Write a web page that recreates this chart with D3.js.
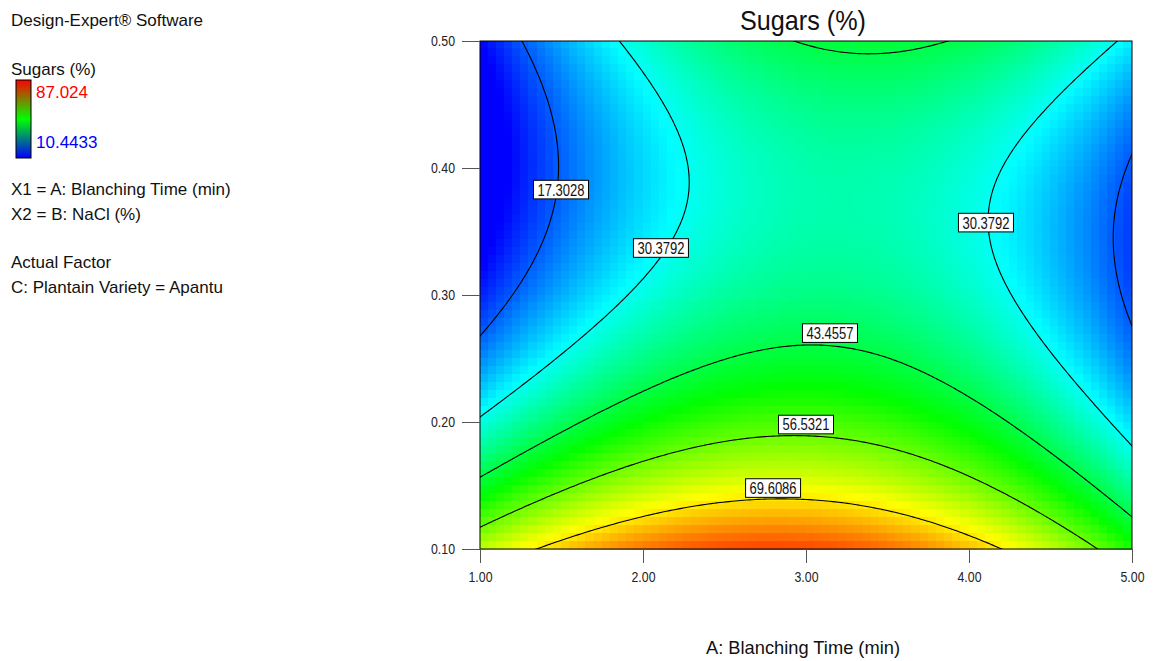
<!DOCTYPE html>
<html>
<head>
<meta charset="utf-8">
<script src="https://cdn.jsdelivr.net/npm/d3@7/dist/d3.min.js"></script>
<style>
  body { margin: 0; background: #fff; }
  svg text { font-family: "Liberation Sans", Arial, sans-serif; fill: #111; }
</style>
</head>
<body>
<svg id="chart" width="1157" height="661"></svg>
<script>
// axis ticks and contour levels
const xTicks = [1, 2, 3, 4, 5];
const yTicks = [0.1, 0.2, 0.3, 0.4, 0.5];
const levels = [17.3028, 30.3792, 43.4557, 56.5321, 69.6086];
const legendMax = 87.024;
const legendMin = 10.4433;

// points: A (min), B (%), Sugars (%)
const traceA = [
  // 17.3028 left
  1.296, 1.409, 1.48, 1.517, 1.491, 1.429, 1.327, 1.143, 1.0,
  // 17.3028 right
  5.0, 4.967, 4.896, 4.885, 4.906, 5.0,
  // 30.3792 left
  1.869, 2.043, 2.186, 2.268, 2.302, 2.268, 2.145, 2.053, 1.552, 1.245, 1.0,
  // 30.3792 right
  4.906, 4.64, 4.354, 4.17, 4.102, 4.149, 4.272, 4.436, 4.64, 4.845, 5.0,
  // 43.4557 (lower line, then the bowl at the top)
  1.0, 1.552, 1.961, 2.575, 3.086, 3.454, 4.067, 4.477, 5.0,
  2.891, 3.086, 3.372, 3.638, 3.894,
  // 56.5321
  1.0, 1.552, 1.961, 2.575, 3.086, 3.658, 4.067, 4.477, 4.814,
  // 69.6086
  1.348, 1.756, 2.166, 2.575, 2.983, 3.25, 3.658, 4.221,
];
const traceB = [
  0.5, 0.469, 0.438, 0.404, 0.362, 0.338, 0.32, 0.291, 0.263,
  0.413, 0.398, 0.372, 0.351, 0.325, 0.283,
  0.5, 0.477, 0.448, 0.422, 0.391, 0.362, 0.338, 0.32, 0.267, 0.231, 0.202,
  0.5, 0.469, 0.422, 0.396, 0.362, 0.325, 0.299, 0.27, 0.238, 0.209, 0.186,
  0.156, 0.196, 0.223, 0.251, 0.262, 0.249, 0.202, 0.165, 0.129,
  0.5, 0.494, 0.489, 0.492, 0.5,
  0.116, 0.149, 0.17, 0.186, 0.19, 0.173, 0.149, 0.123, 0.1,
  0.1, 0.118, 0.132, 0.14, 0.141, 0.137, 0.125, 0.1,
];
const traceLevel = [
  ...Array(9).fill(17.3028), ...Array(6).fill(17.3028),
  ...Array(11).fill(30.3792), ...Array(11).fill(30.3792),
  ...Array(14).fill(43.4557), ...Array(9).fill(56.5321), ...Array(8).fill(69.6086),
];

// spot values estimated from the colours
const spotA = [2.91, 1.0, 5.0, 1.0, 1.0, 5.0, 5.0, 3.372];
const spotB = [0.1, 0.1, 0.1, 0.5, 0.4, 0.5, 0.345, 0.5];
const spotValue = [83.0, 62.0, 50.0, 11.0, 10.44, 27.0, 15.0, 48.0];

// chart variables
const plotLeft = 480;
const plotRight = 1132;
const plotTop = 41;
const plotBottom = 549;
const nCols = 80;
const nRows = 64;

// fit the response surface (cubic in coded units) to the read points
const coded = (A, B) => [(A - 3) / 2, (B - 0.3) / 0.2];
const terms = (a, b) => [1, a, b, a * b, a * a, b * b, a * a * b, a * b * b, a * a * a, b * b * b];
const k = 10;
const M = Array.from({ length: k }, () => new Array(k + 1).fill(0));
const allA = traceA.concat(spotA);
const allB = traceB.concat(spotB);
const allV = traceLevel.concat(spotValue);
allA.forEach((A, i) => {
  const [a, b] = coded(A, allB[i]);
  const t = terms(a, b);
  for (let r = 0; r < k; r++) {
    for (let c = 0; c < k; c++) M[r][c] += t[r] * t[c];
    M[r][k] += t[r] * allV[i];
  }
});
for (let c = 0; c < k; c++) {
  let p = c;
  for (let r = c + 1; r < k; r++) if (Math.abs(M[r][c]) > Math.abs(M[p][c])) p = r;
  [M[c], M[p]] = [M[p], M[c]];
  for (let r = 0; r < k; r++) {
    if (r === c) continue;
    const f = M[r][c] / M[c][c];
    for (let j = c; j <= k; j++) M[r][j] -= f * M[c][j];
  }
}
const coef = M.map((row, i) => row[k] / row[i]);
const sugars = (A, B) => {
  const [a, b] = coded(A, B);
  return d3.sum(terms(a, b), (t, i) => t * coef[i]);
};

// scales
const xScale = d3.scaleLinear().domain([1, 5]).range([plotLeft, plotRight]);
const yScale = d3.scaleLinear().domain([0.1, 0.5]).range([plotBottom, plotTop]);
const step = (legendMax - legendMin) / 4;
const color = d3
  .scaleLinear()
  .domain([0, 1, 2, 3, 4].map((i) => legendMin + i * step))
  .range(["#0000ff", "#00ffff", "#00ff00", "#ffff00", "#ff0000"])
  .clamp(true);

const svg = d3.select("#chart");
const defs = svg.append("defs");

defs
  .append("clipPath")
  .attr("id", "plot-clip")
  .append("rect")
  .attr("x", plotLeft)
  .attr("y", plotTop)
  .attr("width", plotRight - plotLeft)
  .attr("height", plotBottom - plotTop);

// heat map cells
const cells = [];
for (let j = 0; j < nRows; j++) {
  for (let i = 0; i < nCols; i++) {
    const A0 = 1 + (i * 4) / nCols;
    const B0 = 0.5 - (j * 0.4) / nRows;
    cells.push({ A0, A1: A0 + 4 / nCols, B0, B1: B0 - 0.4 / nRows });
  }
}
svg
  .append("g")
  .attr("shape-rendering", "crispEdges")
  .selectAll("rect")
  .data(cells)
  .enter()
  .append("rect")
  .attr("x", (d) => Math.floor(xScale(d.A0)))
  .attr("y", (d) => Math.floor(yScale(d.B0)))
  .attr("width", (d) => Math.ceil(xScale(d.A1)) - Math.floor(xScale(d.A0)))
  .attr("height", (d) => Math.ceil(yScale(d.B1)) - Math.floor(yScale(d.B0)))
  .attr("fill", (d) => color(sugars((d.A0 + d.A1) / 2, (d.B0 + d.B1) / 2)));

// contour lines on a finer grid, a little wider than the plot
const fine = 220;
const margin = 4;
const dA = 4 / fine;
const dB = 0.4 / fine;
const nA = fine + 1 + 2 * margin;
const nB = fine + 1 + 2 * margin;
const gridA = (u) => 1 - margin * dA + (u - 0.5) * dA;
const gridB = (v) => 0.5 + margin * dB - (v - 0.5) * dB;
const values = new Array(nA * nB);
for (let j = 0; j < nB; j++) {
  for (let i = 0; i < nA; i++) values[j * nA + i] = sugars(gridA(i + 0.5), gridB(j + 0.5));
}
const contours = d3.contours().size([nA, nB]).thresholds(levels)(values);
const path = d3.geoPath(
  d3.geoTransform({
    point(u, v) {
      this.stream.point(xScale(gridA(u)), yScale(gridB(v)));
    },
  })
);
svg
  .append("g")
  .attr("clip-path", "url(#plot-clip)")
  .selectAll("path")
  .data(contours)
  .enter()
  .append("path")
  .attr("d", path)
  .attr("fill", "none")
  .attr("stroke", "#000")
  .attr("stroke-width", 1.1);

// frame
svg
  .append("rect")
  .attr("x", plotLeft)
  .attr("y", plotTop)
  .attr("width", plotRight - plotLeft)
  .attr("height", plotBottom - plotTop)
  .attr("fill", "none")
  .attr("stroke", "#000")
  .attr("stroke-width", 1);

// contour labels
const labelSpots = [
  { level: 17.3028, A: 1.497, B: 0.383 },
  { level: 30.3792, A: 2.11, B: 0.337 },
  { level: 30.3792, A: 4.104, B: 0.357 },
  { level: 43.4557, A: 3.147, B: 0.27 },
  { level: 56.5321, A: 3.0, B: 0.198 },
  { level: 69.6086, A: 2.798, B: 0.148 },
];
const labels = svg
  .append("g")
  .selectAll("g")
  .data(labelSpots)
  .enter()
  .append("g")
  .attr("transform", (d) => `translate(${xScale(d.A)}, ${yScale(d.B)})`);
labels
  .append("rect")
  .attr("x", -27.5)
  .attr("y", -9.3)
  .attr("width", 55)
  .attr("height", 18.6)
  .attr("fill", "#fff")
  .attr("stroke", "#000")
  .attr("stroke-width", 1);
labels
  .append("text")
  .attr("text-anchor", "middle")
  .attr("dy", "0.37em")
  .attr("textLength", 47)
  .attr("lengthAdjust", "spacingAndGlyphs")
  .style("font-size", "16px")
  .text((d) => d.level.toFixed(4));

// axes
const xAxis = svg
  .append("g")
  .attr("transform", `translate(0, ${plotBottom})`)
  .call(
    d3.axisBottom(xScale).tickValues(xTicks).tickFormat(d3.format(".2f")).tickSize(14).tickPadding(9)
  );
const yAxis = svg
  .append("g")
  .attr("transform", `translate(${plotLeft}, 0)`)
  .call(
    d3.axisLeft(yScale).tickValues(yTicks).tickFormat(d3.format(".2f")).tickSize(18).tickPadding(7)
  );
[xAxis, yAxis].forEach((ax) => {
  ax.attr("font-family", null).attr("font-size", null);
  ax.select(".domain").remove();
  ax.selectAll(".tick line").attr("stroke", "#555");
  ax.selectAll(".tick text")
    .style("font-size", "14.5px")
    .style("fill", "#222")
    .attr("textLength", 24)
    .attr("lengthAdjust", "spacingAndGlyphs");
});

// title and axis titles
svg
  .append("text")
  .attr("x", 803)
  .attr("y", 30)
  .attr("text-anchor", "middle")
  .attr("textLength", 126)
  .attr("lengthAdjust", "spacingAndGlyphs")
  .style("font-size", "28px")
  .text("Sugars (%)");
svg
  .append("text")
  .attr("x", 803)
  .attr("y", 654)
  .attr("text-anchor", "middle")
  .attr("textLength", 194)
  .attr("lengthAdjust", "spacingAndGlyphs")
  .style("font-size", "19px")
  .text("A: Blanching Time (min)");

// y title, mostly hidden like in the picture
defs
  .append("clipPath")
  .attr("id", "ytitle-clip")
  .append("rect")
  .attr("x", 352)
  .attr("y", 150)
  .attr("width", 5)
  .attr("height", 300);
svg
  .append("text")
  .attr("clip-path", "url(#ytitle-clip)")
  .attr("transform", "translate(376, 297) rotate(-90)")
  .attr("text-anchor", "middle")
  .attr("textLength", 165)
  .attr("lengthAdjust", "spacingAndGlyphs")
  .style("font-size", "30px")
  .text("B: NaCl (%)");

// left info block
const info = [
  ["Design-Expert® Software", 26],
  ["Sugars (%)", 75],
  ["X1 = A: Blanching Time (min)", 195],
  ["X2 = B: NaCl (%)", 220],
  ["Actual Factor", 268],
  ["C: Plantain Variety = Apantu", 293],
];
svg
  .append("g")
  .selectAll("text")
  .data(info)
  .enter()
  .append("text")
  .attr("x", 11)
  .attr("y", (d) => d[1])
  .style("font-size", "17px")
  .text((d) => d[0]);

// colour legend bar
const grad = defs
  .append("linearGradient")
  .attr("id", "legend-grad")
  .attr("x1", 0)
  .attr("y1", 0)
  .attr("x2", 0)
  .attr("y2", 1);
grad.append("stop").attr("offset", "0%").attr("stop-color", "#ff0000");
grad.append("stop").attr("offset", "50%").attr("stop-color", "#00ff00");
grad.append("stop").attr("offset", "100%").attr("stop-color", "#0000ff");
svg
  .append("rect")
  .attr("x", 16)
  .attr("y", 80)
  .attr("width", 15)
  .attr("height", 78)
  .attr("fill", "url(#legend-grad)")
  .attr("stroke", "#000")
  .attr("stroke-width", 1);
svg
  .append("text")
  .attr("x", 36)
  .attr("y", 98)
  .style("font-size", "17px")
  .style("fill", "#ff0000")
  .text(legendMax);
svg
  .append("text")
  .attr("x", 36)
  .attr("y", 148)
  .style("font-size", "17px")
  .style("fill", "#0000ff")
  .text(legendMin);
</script>
</body>
</html>
